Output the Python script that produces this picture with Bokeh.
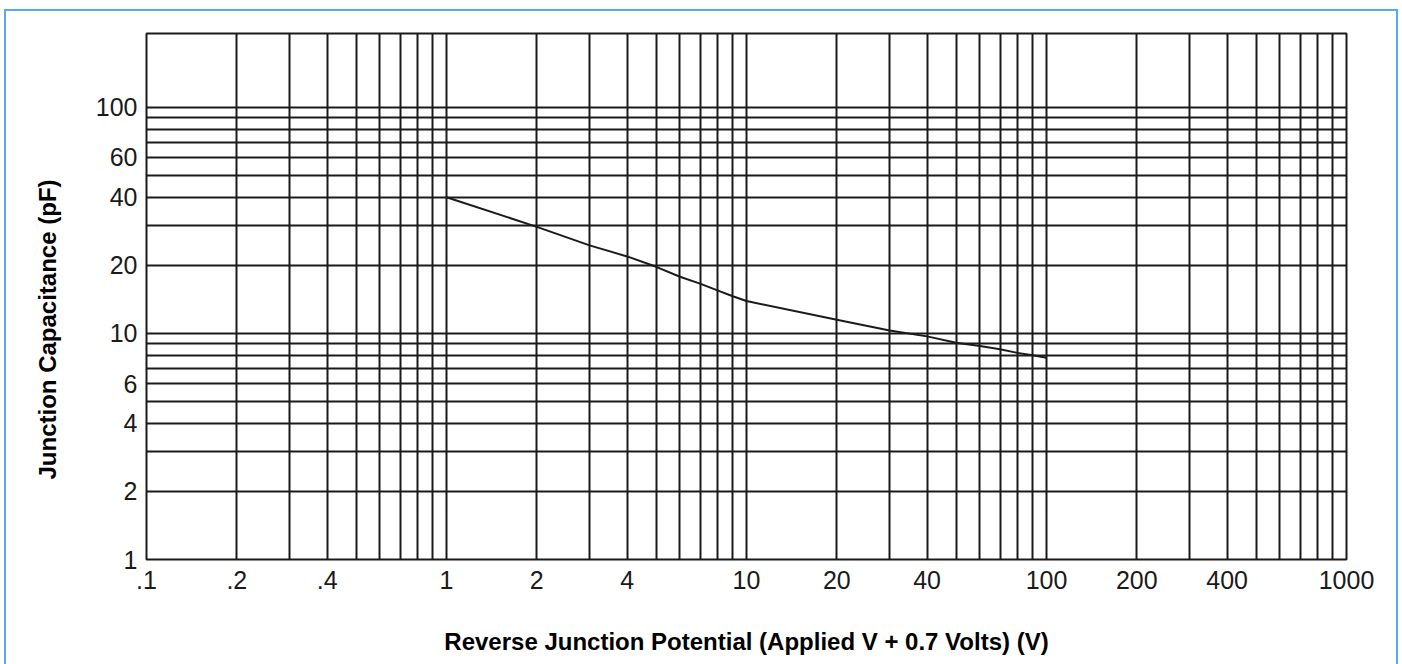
from bokeh.plotting import figure
from bokeh.models import FixedTicker, Range1d, Title
from bokeh.embed import file_html
from bokeh.resources import INLINE

# ---- data ----
voltage = [1, 2, 3, 4, 5, 6, 7, 8, 9, 10, 20, 30, 40, 50, 60, 70, 80, 90, 100]
capacitance = [40, 29.6, 24.5, 21.9, 19.7, 17.8, 16.6, 15.5, 14.6, 13.9,
               11.5, 10.3, 9.7, 9.1, 8.8, 8.5, 8.2, 8.0, 7.8]

x_tick_values = [0.1, 0.2, 0.4, 1, 2, 4, 10, 20, 40, 100, 200, 400, 1000]
x_tick_labels = [".1", ".2", ".4", "1", "2", "4", "10", "20", "40", "100", "200", "400", "1000"]
y_tick_values = [1, 2, 4, 6, 10, 20, 40, 60, 100]
y_tick_labels = ["1", "2", "4", "6", "10", "20", "40", "60", "100"]

x_grid_values = [0.1, 0.2, 0.3, 0.4, 0.5, 0.6, 0.7, 0.8, 0.9,
                 1, 2, 3, 4, 5, 6, 7, 8, 9,
                 10, 20, 30, 40, 50, 60, 70, 80, 90,
                 100, 200, 300, 400, 500, 600, 700, 800, 900, 1000]
y_grid_values = [1, 2, 3, 4, 5, 6, 7, 8, 9,
                 10, 20, 30, 40, 50, 60, 70, 80, 90, 100]

FONT = "Liberation Sans"
INK = "#1a1a1a"
BLUE = "#5aa8f0"

p = figure(width=1402, height=664,
           x_axis_type="log", y_axis_type="log",
           x_range=Range1d(0.1, 1000), y_range=Range1d(1, 212),
           output_backend="svg", toolbar_location=None,
           min_border_left=146, min_border_right=56,
           min_border_top=33, min_border_bottom=105)

p.border_fill_alpha = 0
p.background_fill_color = "white"
p.outline_line_color = INK
p.outline_line_width = 2
# light-blue frame around the figure (top, left, right edges)
p.styles = {"box-shadow": (
    "inset 4px 0 0 white, inset -4px 0 0 white, inset 0 9px 0 white, "
    f"inset 6px 0 0 {BLUE}, inset -6px 0 0 {BLUE}, inset 0 11px 0 {BLUE}")}

# grids
p.xgrid.ticker = FixedTicker(ticks=x_grid_values)
p.ygrid.ticker = FixedTicker(ticks=y_grid_values)
for g in (p.xgrid, p.ygrid):
    g.grid_line_color = INK
    g.grid_line_width = 2
    g.grid_line_alpha = 1.0

# axes
p.xaxis.ticker = FixedTicker(ticks=x_tick_values)
p.yaxis.ticker = FixedTicker(ticks=y_tick_values)
p.xaxis.major_label_overrides = {v: t for v, t in zip(x_tick_values, x_tick_labels)}
p.yaxis.major_label_overrides = {v: t for v, t in zip(y_tick_values, y_tick_labels)}

for ax in (p.xaxis, p.yaxis):
    ax.axis_line_color = None
    ax.major_tick_line_color = None
    ax.minor_tick_line_color = None
    ax.major_label_text_font = FONT
    ax.major_label_text_font_size = "25px"
    ax.major_label_text_color = INK
    ax.axis_label_text_font = FONT
    ax.axis_label_text_font_style = "bold"
    ax.axis_label_text_font_size = "24px"
    ax.axis_label_text_color = "black"

p.xaxis.major_label_standoff = 5
p.yaxis.major_label_standoff = 3
p.xaxis.axis_label = "Reverse Junction Potential (Applied V + 0.7 Volts) (V)"
p.xaxis.axis_label_standoff = 36

ylabel = Title(text="Junction Capacitance (pF)", align="left", offset=80,
               standoff=63, text_font=FONT, text_font_style="bold",
               text_font_size="24px", text_color="black")
p.add_layout(ylabel, "left")

p.line(voltage, capacitance, line_color=INK, line_width=2)

open("out.html", "w").write(file_html(p, INLINE))
